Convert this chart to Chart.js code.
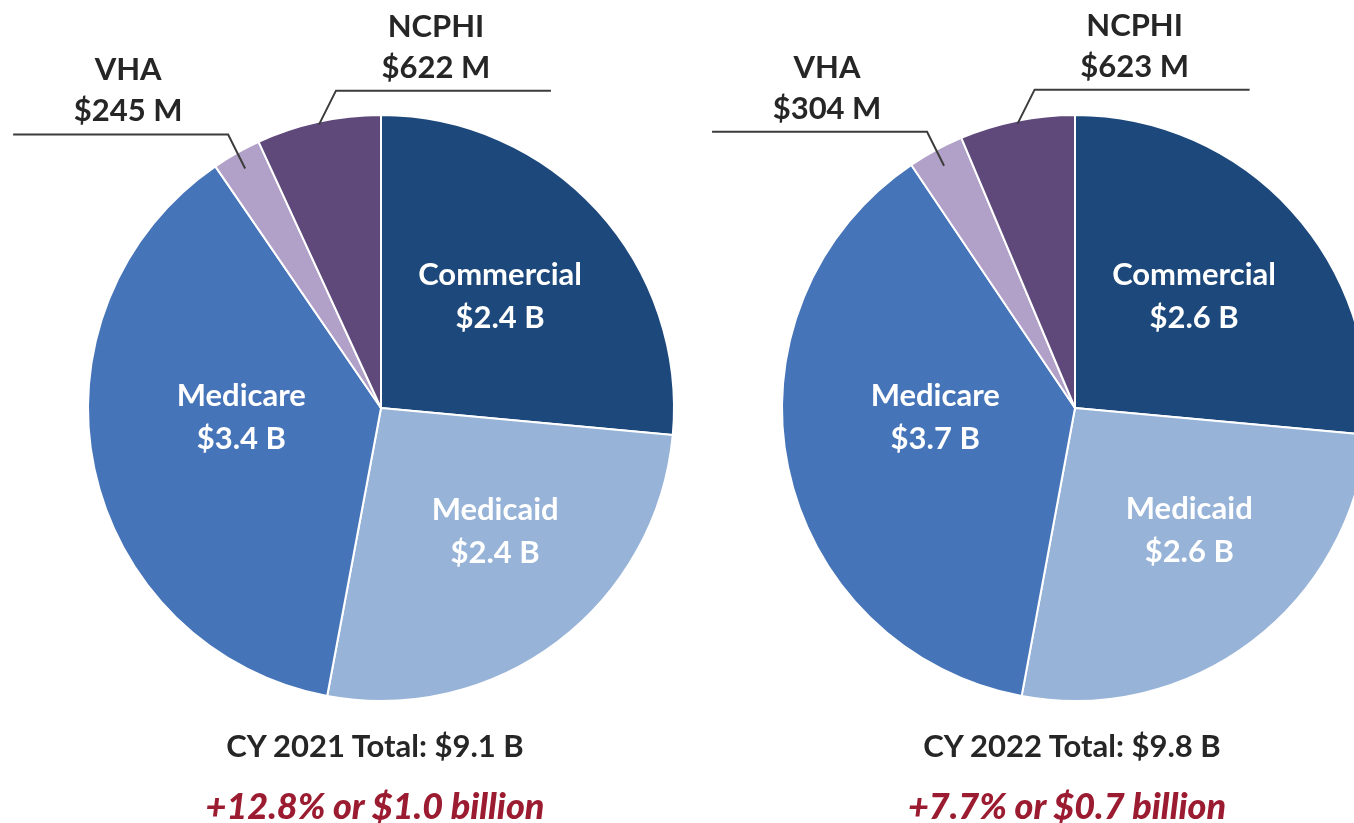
<!DOCTYPE html>
<html><head><meta charset="utf-8">
<script src="https://cdn.jsdelivr.net/npm/chart.js@4.4.1/dist/chart.umd.min.js"></script>
<style>
html,body{margin:0;padding:0;width:1354px;height:823px;overflow:hidden;background:#fff;}
canvas{position:absolute;top:0;}
.txt{position:absolute;white-space:nowrap;transform:translateX(-50%);font-family:Lato,"Open Sans",sans-serif;line-height:1;}
.total{font-weight:700;font-size:31px;color:#262626;}
.chg{font-weight:900;font-style:italic;font-size:36px;color:#9b1b30;}
</style></head><body>
<canvas id="c1" width="700" height="823" style="left:0px"></canvas>
<canvas id="c2" width="700" height="823" style="left:694px"></canvas>
<div class="txt total" id="t1" style="left:375px;top:730px"></div>
<div class="txt total" id="t2" style="left:1072px;top:730px"></div>
<div class="txt chg" id="g1" style="left:375px;top:787px"></div>
<div class="txt chg" id="g2" style="left:1067px;top:787px"></div>
<script>
// ---- data ----
const categories = ['Commercial', 'Medicaid', 'Medicare', 'VHA', 'NCPHI'];
const values2021 = [2.4, 2.4, 3.4, 0.245, 0.622];   // $ billions
const values2022 = [2.6, 2.6, 3.7, 0.304, 0.623];   // $ billions
const totals = ['CY 2021 Total: $9.1 B', 'CY 2022 Total: $9.8 B'];
const changes = ['+12.8% or $1.0 billion', '+7.7% or $0.7 billion'];

// ---- style ----
const colors = ['#1d487b', '#97b3d7', '#4674b8', '#b1a0c7', '#5e497a'];
const labelStyle = [
  {kind: 'in', dx: 0, dy: -3},
  {kind: 'in', dx: 17, dy: -6},
  {kind: 'in', dx: 18, dy: -24},
  {kind: 'out', side: -1, rf: 0.94},
  {kind: 'out', side: 1, rf: 0.99}
];

function fmt(v) {
  return v >= 1 ? '$' + v.toFixed(1) + ' B' : '$' + Math.round(v * 1000) + ' M';
}

const sliceLabels = {
  id: 'sliceLabels',
  afterDatasetsDraw(chart) {
    const ctx = chart.ctx;
    const meta = chart.getDatasetMeta(0);
    const vals = chart.data.datasets[0].data;
    ctx.save();
    ctx.font = '700 31px Lato, "Open Sans", sans-serif';
    ctx.textAlign = 'center';
    ctx.textBaseline = 'middle';
    meta.data.forEach((arc, i) => {
      const p = arc.getProps(['x', 'y', 'startAngle', 'endAngle', 'outerRadius'], true);
      const mid = (p.startAngle + p.endAngle) / 2;
      const st = labelStyle[i];
      const name = chart.data.labels[i];
      const val = fmt(vals[i]);
      if (st.kind === 'in') {
        const r = p.outerRadius * 0.55;
        const cx = p.x + Math.cos(mid) * r + st.dx;
        const cy = p.y + Math.sin(mid) * r + st.dy;
        ctx.fillStyle = '#ffffff';
        ctx.fillText(name, cx, cy - 21);
        ctx.fillText(val, cx, cy + 22);
      } else {
        const r0 = p.outerRadius * st.rf;
        const sx = p.x + Math.cos(mid) * r0;
        const sy = p.y + Math.sin(mid) * r0;
        const ex = sx + st.side * 17;
        const ey = sy - 34;
        const hx = ex + st.side * 215;
        ctx.strokeStyle = '#3c3c3c';
        ctx.lineWidth = 2;
        ctx.beginPath();
        ctx.moveTo(sx, sy);
        ctx.lineTo(ex, ey);
        ctx.lineTo(hx, ey);
        ctx.stroke();
        ctx.fillStyle = '#262626';
        const tx = ex + st.side * 100;
        ctx.fillText(name, tx, ey - 64);
        ctx.fillText(val, tx, ey - 23);
      }
    });
    ctx.restore();
  }
};

function makePie(id, values) {
  new Chart(document.getElementById(id), {
    type: 'pie',
    data: {
      labels: categories,
      datasets: [{data: values, backgroundColor: colors, borderColor: '#ffffff', borderWidth: 2}]
    },
    options: {
      responsive: false,
      animation: false,
      layout: {padding: {left: 87, top: 114, right: 25, bottom: 121}},
      plugins: {legend: {display: false}, tooltip: {enabled: false}}
    },
    plugins: [sliceLabels]
  });
}
makePie('c1', values2021);
makePie('c2', values2022);
document.getElementById('t1').textContent = totals[0];
document.getElementById('t2').textContent = totals[1];
document.getElementById('g1').textContent = changes[0];
document.getElementById('g2').textContent = changes[1];
</script>
</body></html>
